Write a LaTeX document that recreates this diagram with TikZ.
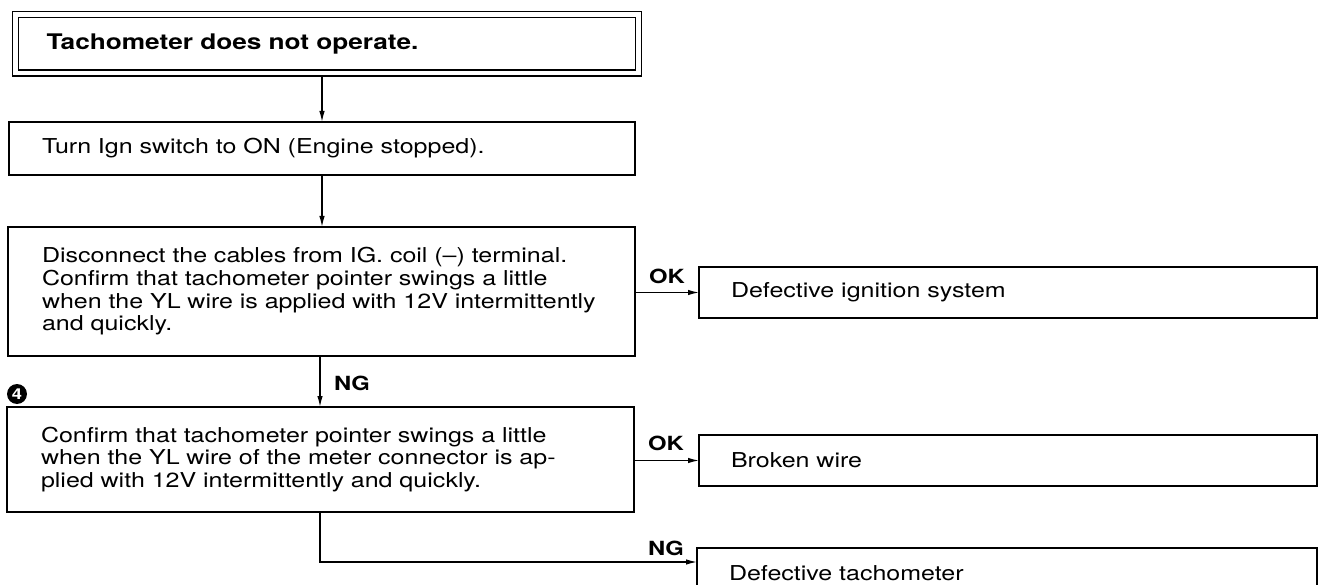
\documentclass[tikz,border=0pt]{standalone}
\usepackage{fontspec}
\setmainfont{TeX Gyre Heros}[FakeStretch=1.22]
\usetikzlibrary{arrows.meta}
\newcommand\bodyfnt{\fontsize{20.5}{22.7}\selectfont}
\newcommand\titlefnt{\fontsize{21.5}{23}\selectfont\bfseries}
\newcommand\lblfnt{\fontsize{19.5}{21}\selectfont\bfseries}
\tikzset{
  boxnode/.style={draw, line width=1.4pt, anchor=north west, align=left,
    inner xsep=33pt, inner ysep=0pt, outer sep=0pt, font=\bodyfnt},
  resnode/.style={boxnode, inner xsep=32pt, text width=554pt, minimum height=51pt},
  arr/.style={line width=1.3pt, -{Latex[length=11pt,width=5.5pt]}},
  lbl/.style={font=\lblfnt, inner sep=0pt},
}
\begin{document}
\begin{tikzpicture}[x=1pt,y=-1pt]
\useasboundingbox (0,0) rectangle (1324,585);
\fill[white] (0,0) rectangle (1324,585);
\coordinate (colA) at (322,0);
\coordinate (colB) at (320,0);
\coordinate (ngY) at (0,562);

\node[boxnode, double, double distance=4.7pt, line width=1.3pt, outer sep=3.65pt,
      inner xsep=31pt, text width=561pt, minimum height=58.5pt,
      font=\titlefnt] (b1) at (12,11) {Tachometer does not operate.};
\node[boxnode, text width=560pt, minimum height=53pt] (b2) at (9,122)
  {Turn Ign switch to ON (Engine stopped).};
\node[boxnode, inner xsep=34pt, text width=559pt, minimum height=129pt] (b3) at (8,227)
  {\mbox{Disconnect the cables from IG. coil (--) terminal.}\\
   \mbox{Confirm that tachometer pointer swings a little}\\
   \mbox{when the YL wire is applied with 12V intermittently}\\
   \mbox{and quickly.}};
\node[boxnode, inner xsep=34pt, text width=559pt, minimum height=105pt] (b4) at (7,407)
  {\mbox{Confirm that tachometer pointer swings a little}\\
   \mbox{when the YL wire of the meter connector is ap-}\\
   \mbox{plied with 12V intermittently and quickly.}};

\node[resnode] (r1) at (699,267) {Defective ignition system};
\node[resnode] (r2) at (699,435) {Broken wire};
\node[resnode, text width=556pt] (r3) at (697,548) {Defective tachometer};

\node[circle, fill=black, minimum size=20pt, inner sep=0pt, text=white,
      font=\fontsize{15}{15}\selectfont\bfseries] (n4) at (17,394) {4};

\draw[arr] (b1.south -| colA) -- (b2.north -| colA);
\draw[arr] (b2.south -| colA) -- (b3.north -| colA);
\draw[arr] (b3.south -| colB) -- (b4.north -| colB);
\draw[arr] (b3.east |- r1.west) -- (r1.west);
\draw[arr] (b4.east |- r2.west) -- (r2.west);
\draw[arr] (b4.south -| colB) |- (r3.west |- ngY);

\node[lbl] (ok1) at (667,276) {OK};
\node[lbl] (ng1) at (352,383) {NG};
\node[lbl] (ok2) at (666,443) {OK};
\node[lbl] (ng2) at (666,548) {NG};
\end{tikzpicture}
\end{document}
